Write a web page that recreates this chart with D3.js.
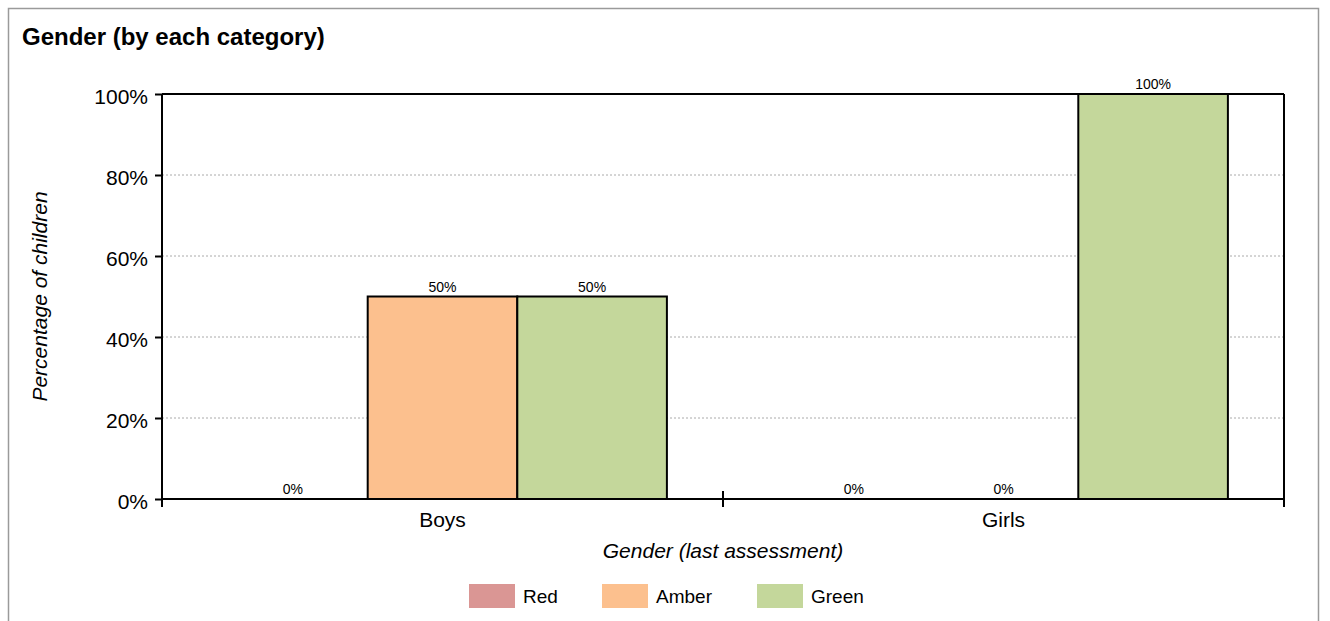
<!DOCTYPE html>
<html><head><meta charset="utf-8">
<script src="https://cdn.jsdelivr.net/npm/d3@7"></script>
<style>body{margin:0;background:#fff;font-family:"Liberation Sans",Arial,sans-serif;}</style>
</head><body><svg id="c" width="1330" height="621"></svg>
<script>
const categories = ["Boys", "Girls"];
const seriesNames = ["Red", "Amber", "Green"];
const seriesColors = ["#da9694", "#fcc08e", "#c4d79b"];
const redValues = [0, 0];
const amberValues = [50, 0];
const greenValues = [50, 100];
const yTicks = [0, 20, 40, 60, 80, 100];

const seriesValues = [redValues, amberValues, greenValues];
const svg = d3.select("#c");
const font = "Liberation Sans, Arial, sans-serif";

// outer frame
svg.append("rect").attr("x", 8.5).attr("y", 8.5).attr("width", 1310).attr("height", 640)
  .attr("fill", "none").attr("stroke", "#9a9a9a").attr("stroke-width", 1.5);

svg.append("text").attr("x", 22).attr("y", 45).attr("font-family", font)
  .attr("font-size", 24).attr("font-weight", "bold").text("Gender (by each category)");

const L = 162, R = 1284, T = 94, B = 499;
const x0 = d3.scaleBand().domain(categories).range([L, R]).paddingInner(0).paddingOuter(0);
const x1 = d3.scaleBand().domain(seriesNames).range([0, x0.bandwidth()]).padding(0).paddingOuter(0.375);
const y = d3.scaleLinear().domain([0, 100]).range([B, T]);

// gridlines
svg.append("g").selectAll("line").data(yTicks.filter(d => d > 0 && d < 100)).join("line")
  .attr("x1", L).attr("x2", R).attr("y1", d => y(d)).attr("y2", d => y(d))
  .attr("stroke", "#aaa").attr("stroke-dasharray", "2,2").attr("stroke-width", 1);

// top and right border
svg.append("line").attr("x1", L).attr("x2", R).attr("y1", T).attr("y2", T).attr("stroke", "#000").attr("stroke-width", 2);
svg.append("line").attr("x1", R).attr("x2", R).attr("y1", T).attr("y2", B).attr("stroke", "#000").attr("stroke-width", 2);

// bars
const groups = svg.append("g").selectAll("g").data(categories).join("g")
  .attr("transform", d => `translate(${x0(d)},0)`);
groups.each(function(cat, ci) {
  const g = d3.select(this);
  seriesNames.forEach((s, si) => {
    const v = seriesValues[si][ci];
    if (v > 0) {
      g.append("rect").attr("x", x1(s)).attr("y", y(v)).attr("width", x1.bandwidth())
        .attr("height", y(0) - y(v)).attr("fill", seriesColors[si]).attr("stroke", "#000").attr("stroke-width", 2);
    }
    g.append("text").attr("x", x1(s) + x1.bandwidth() / 2).attr("y", y(v) - 5)
      .attr("text-anchor", "middle").attr("font-family", font).attr("font-size", 14).text(v + "%");
  });
});

// y axis
const yAxis = svg.append("g").attr("transform", `translate(${L},0)`)
  .call(d3.axisLeft(y).tickValues(yTicks).tickFormat(d => d + "%").tickSize(7).tickPadding(7));
yAxis.select(".domain").attr("stroke", "#000").attr("stroke-width", 2).attr("d", `M0,${T}V${B + 8}`);
yAxis.selectAll(".tick line").attr("stroke", "#000").attr("stroke-width", 2);
yAxis.selectAll("text").attr("font-family", font).attr("font-size", 21).attr("fill", "#000").attr("dy", "0.47em");

// x axis
const xAxis = svg.append("g").attr("transform", `translate(0,${B})`)
  .call(d3.axisBottom(x0).tickSize(0).tickPadding(0));
xAxis.select(".domain").attr("stroke", "#000").attr("stroke-width", 2).attr("d", `M${L},0H${R}`);
xAxis.selectAll("text").attr("font-family", font).attr("font-size", 21).attr("fill", "#000")
  .attr("y", 28).attr("dy", 0);
svg.append("g").selectAll("line").data([L, x0("Girls"), R]).join("line")
  .attr("x1", d => d).attr("x2", d => d).attr("y1", B - 8).attr("y2", B + 8)
  .attr("stroke", "#000").attr("stroke-width", 2);

// axis titles
svg.append("text").attr("transform", `translate(47,${(T + B) / 2}) rotate(-90)`)
  .attr("text-anchor", "middle").attr("font-family", font).attr("font-size", 21).attr("font-style", "italic")
  .text("Percentage of children");
svg.append("text").attr("x", (L + R) / 2).attr("y", 558).attr("text-anchor", "middle")
  .attr("font-family", font).attr("font-size", 21).attr("font-style", "italic").text("Gender (last assessment)");

// legend
const legX = [469, 602, 757];
const leg = svg.append("g").selectAll("g").data(seriesNames).join("g")
  .attr("transform", (d, i) => `translate(${legX[i]},584)`);
leg.append("rect").attr("width", 46).attr("height", 24).attr("fill", (d, i) => seriesColors[i]);
leg.append("text").attr("x", 54).attr("y", 19).attr("font-family", font).attr("font-size", 19).text(d => d);
</script></body></html>
